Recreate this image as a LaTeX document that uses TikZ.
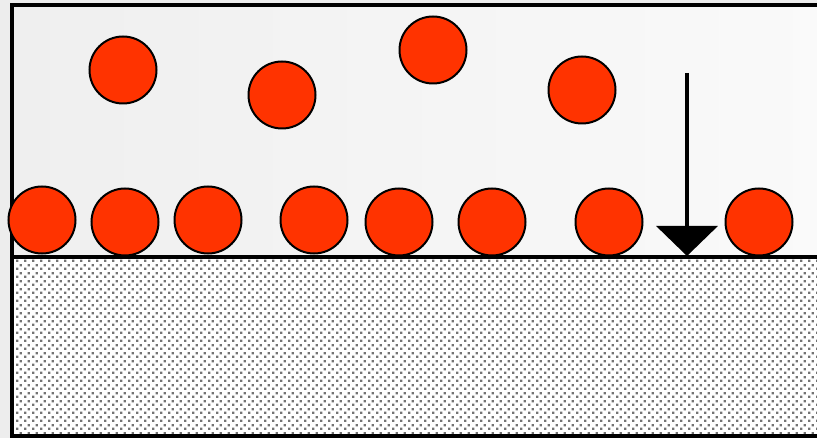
\documentclass[tikz,border=0pt]{standalone}
\usetikzlibrary{patterns,arrows.meta}
\definecolor{ball}{HTML}{FF3300}
\definecolor{bgout}{HTML}{EDEDED}
\definecolor{bgl}{HTML}{EFEFEF}
\definecolor{bgr}{HTML}{FAFAFA}
\pgfdeclarepatternformonly{mydots}{\pgfpointorigin}{\pgfpoint{6pt}{6pt}}{\pgfpoint{6pt}{6pt}}{%
  \pgfpathrectangle{\pgfpoint{0pt}{0pt}}{\pgfpoint{1.9pt}{1.9pt}}%
  \pgfpathrectangle{\pgfpoint{3pt}{3pt}}{\pgfpoint{1.9pt}{1.9pt}}%
  \pgfusepath{fill}}
\begin{document}
\begin{tikzpicture}[x=0.75pt,y=-0.75pt,
  ball/.style={circle,draw=black,line width=1.5pt,fill=ball,minimum size=67*0.75pt,inner sep=0pt}]
\useasboundingbox (0,0) rectangle (817,438);
\clip (0,0) rectangle (817,438);
\fill[bgout] (0,0) rectangle (817,438);
\shade[left color=bgl,right color=bgr] (12,5) rectangle (830,257);
\fill[white] (12,257) rectangle (830,436);
\fill[pattern=mydots,pattern color=black!55] (12,257) rectangle (830,436);
\draw[line width=2.4pt] (12,5) rectangle (830,436);
\draw[line width=2.4pt] (12,257) -- (830,257);
% top row
\node[ball] (t1) at (123,70) {};
\node[ball] (t2) at (282,95) {};
\node[ball] (t3) at (433,50) {};
\node[ball] (t4) at (582,90) {};
% bottom row
\node[ball] (b1) at (42,220) {};
\node[ball] (b2) at (125,222) {};
\node[ball] (b3) at (208,220) {};
\node[ball] (b4) at (314,220) {};
\node[ball] (b5) at (399,222) {};
\node[ball] (b6) at (492,222) {};
\node[ball] (b7) at (609,222) {};
\node[ball] (b8) at (759,222) {};
% arrow
\coordinate (as) at (687,73);
\coordinate (ae) at (687,256);
\draw[line width=3pt,-{Triangle[width=61*0.75pt,length=30*0.75pt]}] (as) -- (ae);
\end{tikzpicture}
\end{document}
